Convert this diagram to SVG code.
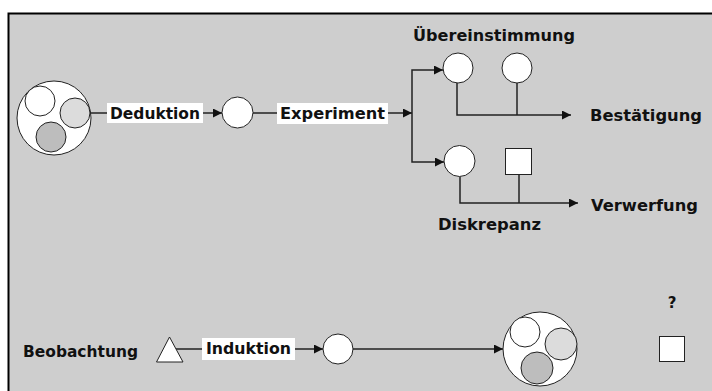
<svg xmlns="http://www.w3.org/2000/svg" width="712" height="391" viewBox="0 0 712 391">
  <style>
    text { font-family: "DejaVu Sans", "Liberation Sans", sans-serif; font-weight: bold; font-size: 15px; fill: #111; }
    .wire { fill: none; stroke: #222; stroke-width: 1.5; }
    .node { fill: #fff; stroke: #222; stroke-width: 1; }
    .lab { fill: #fff; stroke: none; }
    .g1 { fill: #dcdcdc; stroke: #222; stroke-width: 1; }
    .g2 { fill: #bdbdbd; stroke: #222; stroke-width: 1; }
  </style>
  <defs>
    <marker id="arrow" viewBox="0 0 10 10" refX="10" refY="5" markerWidth="10" markerHeight="9" markerUnits="userSpaceOnUse" orient="auto">
      <path d="M0,0 L10,5 L0,10 z" fill="#111"/>
    </marker>
  </defs>

  <!-- panel -->
  <rect x="0" y="0" width="712" height="391" fill="#fff"/>
  <rect x="8" y="13" width="706" height="380" fill="#cecece"/>
  <path d="M8.5,391 V13.5 H712" fill="none" stroke="#000" stroke-width="2"/>

  <!-- connectors -->
  <g id="connectors">
    <path class="wire" d="M91,113 H107"/>
    <path class="wire" d="M203,113 H222" marker-end="url(#arrow)"/>
    <path class="wire" d="M253,113 H277"/>
    <path class="wire" d="M388,113 H412" marker-end="url(#arrow)"/>
    <path class="wire" d="M412,113 V70 H443" marker-end="url(#arrow)"/>
    <path class="wire" d="M412,113 V162 H444" marker-end="url(#arrow)"/>
    <path class="wire" d="M457,83 V115 H571" marker-end="url(#arrow)"/>
    <path class="wire" d="M517,83 V115"/>
    <path class="wire" d="M460,177 V203 H578" marker-end="url(#arrow)"/>
    <path class="wire" d="M519,174 V203"/>
    <path class="wire" d="M176,349 H202"/>
    <path class="wire" d="M295,349 H323" marker-end="url(#arrow)"/>
    <path class="wire" d="M353,349 H503" marker-end="url(#arrow)"/>
  </g>

  <!-- theory (top) -->
  <g id="theorie">
    <circle class="node" cx="54" cy="118" r="37"/>
    <circle class="node" cx="40" cy="101" r="15"/>
    <circle class="g1" cx="75" cy="113" r="15"/>
    <circle class="g2" cx="51" cy="137" r="15"/>
  </g>

  <g id="deduktion">
    <rect class="lab" x="107" y="103" width="96" height="20"/>
    <text x="110" y="119" textLength="90" lengthAdjust="spacingAndGlyphs">Deduktion</text>
  </g>

  <g id="hypothese">
    <circle class="node" cx="237.5" cy="112.5" r="15.5"/>
  </g>

  <g id="experiment">
    <rect class="lab" x="277" y="103" width="111" height="21"/>
    <text x="280" y="119" textLength="105" lengthAdjust="spacingAndGlyphs">Experiment</text>
  </g>

  <g id="uebereinstimmung">
    <text x="413" y="41" textLength="162" lengthAdjust="spacingAndGlyphs">Übereinstimmung</text>
    <circle class="node" cx="458" cy="68" r="15"/>
    <circle class="node" cx="517" cy="68" r="15"/>
  </g>

  <g id="bestaetigung">
    <text x="590" y="121" textLength="112" lengthAdjust="spacingAndGlyphs">Bestätigung</text>
  </g>

  <g id="diskrepanz">
    <circle class="node" cx="459.5" cy="161" r="15.5"/>
    <rect class="node" x="505.5" y="148.5" width="26" height="26"/>
    <text x="438" y="230" textLength="103" lengthAdjust="spacingAndGlyphs">Diskrepanz</text>
  </g>

  <g id="verwerfung">
    <text x="591" y="211" textLength="107" lengthAdjust="spacingAndGlyphs">Verwerfung</text>
  </g>

  <!-- observation (bottom) -->
  <g id="beobachtung">
    <text x="23" y="357" textLength="115" lengthAdjust="spacingAndGlyphs">Beobachtung</text>
    <polygon class="node" points="156.5,362 169.5,337 183,362"/>
  </g>

  <g id="induktion">
    <rect class="lab" x="202" y="338" width="93" height="22"/>
    <text x="206" y="354" textLength="85" lengthAdjust="spacingAndGlyphs">Induktion</text>
  </g>

  <g id="verallgemeinerung">
    <circle class="node" cx="338" cy="349" r="15"/>
  </g>

  <g id="theorie-neu">
    <circle class="node" cx="540" cy="349" r="37"/>
    <circle class="node" cx="525" cy="332" r="15"/>
    <circle class="g1" cx="561" cy="344" r="16"/>
    <circle class="g2" cx="537" cy="368" r="16"/>
  </g>

  <g id="unbekannt">
    <text x="672" y="308" text-anchor="middle">?</text>
    <rect class="node" x="659.5" y="336.5" width="25" height="25"/>
  </g>
</svg>
